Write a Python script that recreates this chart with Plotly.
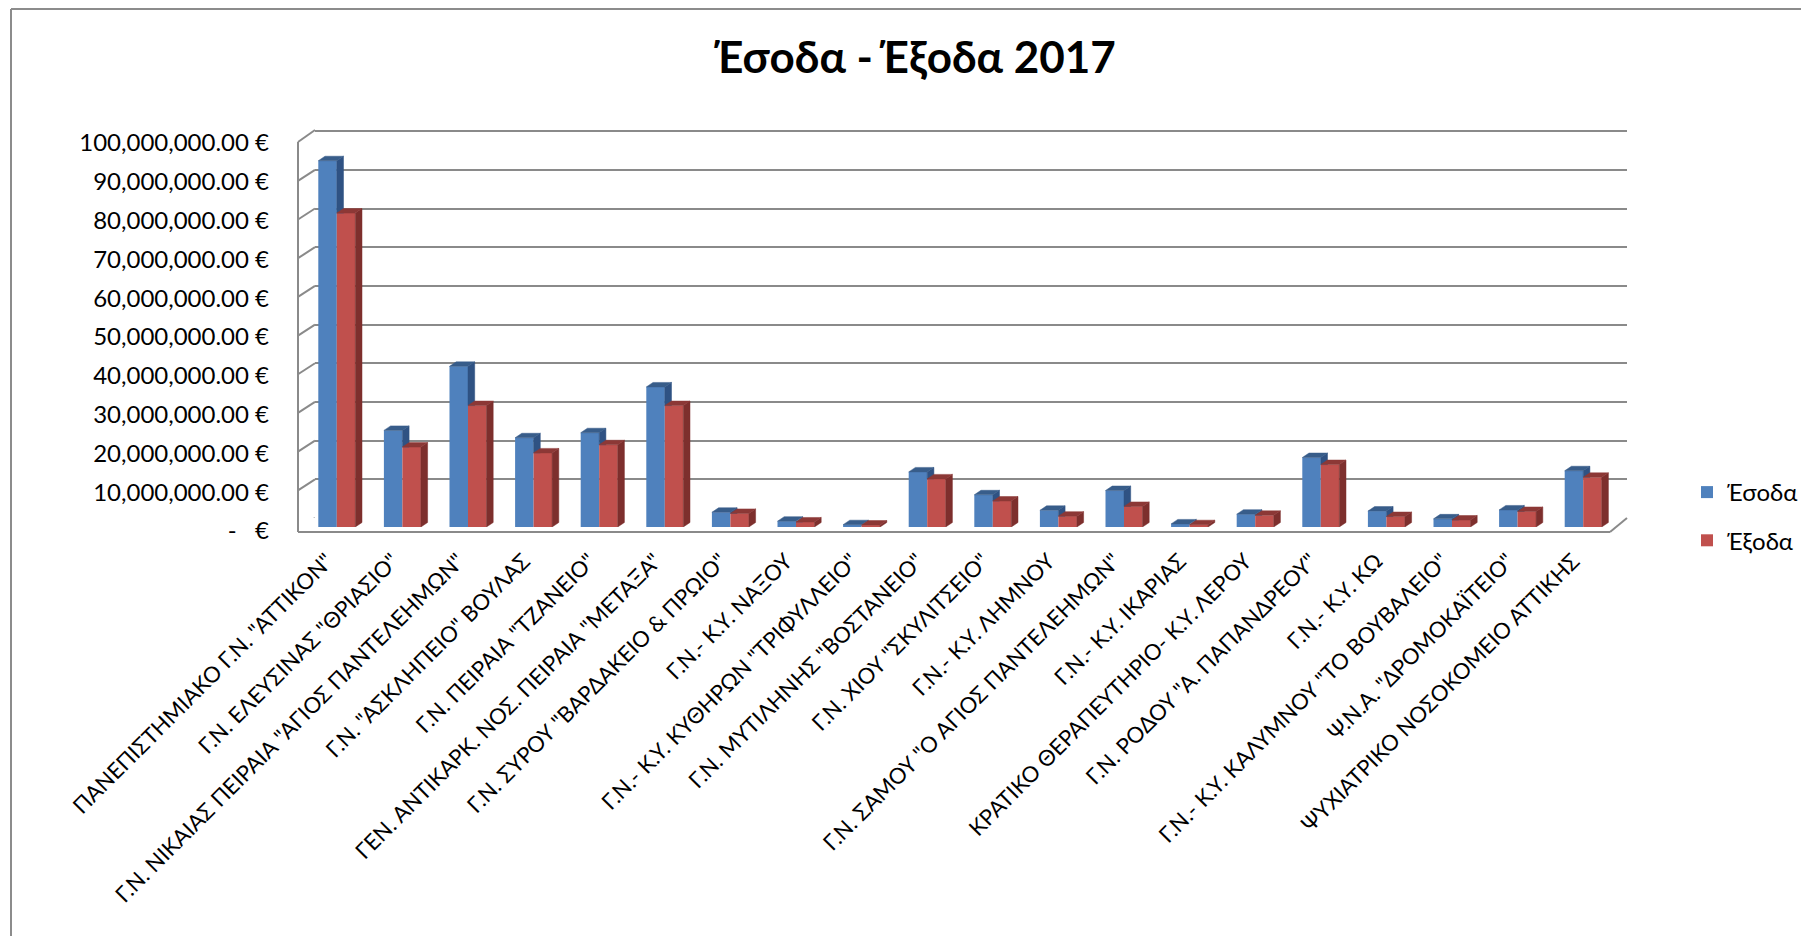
import plotly.graph_objects as go

# ---------------- data ----------------
categories = [
    'ΠΑΝΕΠΙΣΤΗΜΙΑΚΟ Γ.Ν. "ΑΤΤΙΚΟΝ"',
    'Γ.Ν. ΕΛΕΥΣΙΝΑΣ "ΘΡΙΑΣΙΟ"',
    'Γ.Ν. ΝΙΚΑΙΑΣ ΠΕΙΡΑΙΑ "ΑΓΙΟΣ ΠΑΝΤΕΛΕΗΜΩΝ"',
    'Γ.Ν. "ΑΣΚΛΗΠΕΙΟ" ΒΟΥΛΑΣ',
    'Γ.Ν. ΠΕΙΡΑΙΑ "ΤΖΑΝΕΙΟ"',
    'ΓΕΝ. ΑΝΤΙΚΑΡΚ. ΝΟΣ. ΠΕΙΡΑΙΑ "ΜΕΤΑΞΑ"',
    'Γ.Ν. ΣΥΡΟΥ "ΒΑΡΔΑΚΕΙΟ & ΠΡΩΙΟ"',
    'Γ.Ν.- Κ.Υ. ΝΑΞΟΥ',
    'Γ.Ν.- Κ.Υ. ΚΥΘΗΡΩΝ "ΤΡΙΦΥΛΛΕΙΟ"',
    'Γ.Ν. ΜΥΤΙΛΗΝΗΣ "ΒΟΣΤΑΝΕΙΟ"',
    'Γ.Ν. ΧΙΟΥ "ΣΚΥΛΙΤΣΕΙΟ"',
    'Γ.Ν.- Κ.Υ. ΛΗΜΝΟΥ',
    'Γ.Ν. ΣΑΜΟΥ "Ο ΑΓΙΟΣ ΠΑΝΤΕΛΕΗΜΩΝ"',
    'Γ.Ν.- Κ.Υ. ΙΚΑΡΙΑΣ',
    'ΚΡΑΤΙΚΟ ΘΕΡΑΠΕΥΤΗΡΙΟ- Κ.Υ. ΛΕΡΟΥ',
    'Γ.Ν. ΡΟΔΟΥ "Α. ΠΑΠΑΝΔΡΕΟΥ"',
    'Γ.Ν.- Κ.Υ. ΚΩ',
    'Γ.Ν.- Κ.Υ. ΚΑΛΥΜΝΟΥ "ΤΟ ΒΟΥΒΑΛΕΙΟ"',
    'Ψ.Ν.Α. "ΔΡΟΜΟΚΑΪΤΕΙΟ"',
    'ΨΥΧΙΑΤΡΙΚΟ ΝΟΣΟΚΟΜΕΙΟ ΑΤΤΙΚΗΣ',
]
esoda = [94_400_000, 24_900_000, 41_400_000, 23_000_000, 24_300_000,
         36_100_000, 3_800_000, 1_500_000, 600_000, 14_200_000,
         8_300_000, 4_300_000, 9_400_000, 800_000, 3_300_000,
         17_900_000, 4_100_000, 2_100_000, 4_400_000, 14_500_000]
exoda = [80_900_000, 20_600_000, 31_300_000, 19_100_000, 21_200_000,
         31_300_000, 3_500_000, 1_300_000, 500_000, 12_400_000,
         6_700_000, 2_800_000, 5_300_000, 600_000, 3_000_000,
         16_100_000, 2_700_000, 1_800_000, 4_000_000, 12_800_000]
y_tickvals = [0, 10_000_000, 20_000_000, 30_000_000, 40_000_000, 50_000_000,
              60_000_000, 70_000_000, 80_000_000, 90_000_000, 100_000_000]
y_ticktext = ['-\u00a0\u00a0\u00a0€', '10,000,000.00 €', '20,000,000.00 €', '30,000,000.00 €',
              '40,000,000.00 €', '50,000,000.00 €', '60,000,000.00 €', '70,000,000.00 €',
              '80,000,000.00 €', '90,000,000.00 €', '100,000,000.00 €']
series_names = ['Έσοδα', 'Έξοδα']
title_text = 'Έσοδα - Έξοδα 2017'

# ---------------- layout geometry (reference px) ----------------
W, H = 1809, 944
OFF = 8                      # page body margin
FW, FH = W - 2 * OFF, H - 2 * OFF
L, R, T, B = 298, 1627, 130, 532


def fx(px):
    return (px - L) / (R - L)


def fy(py):
    return (B - py) / (B - T)


FONT = "Lato, 'Open Sans', sans-serif"
BLUE, BLUE_SIDE, BLUE_TOP = '#4F81BD', '#2F5283', '#385D8A'
RED, RED_SIDE, RED_TOP = '#C0504D', '#7D2F2D', '#8C3836'
GRID = '#8a8a8a'

YMAX = 100_000_000
YTOP = YMAX * 1.003
front_top_px, front_base_px = 139, 527
back_top_px, back_base_px = 130, 518
BW = 0.282                      # bar width in category units
DX = 6.7 / ((1616 - 304) / 20)  # depth offset in category units
DY = 4.5 / (front_base_px - front_top_px) * YMAX  # depth offset in value units

xs = list(range(len(categories)))

fig = go.Figure()

# empty trace to create the back-wall subplot
fig.add_trace(go.Scatter(x=[], y=[], xaxis='x', yaxis='y', showlegend=False, hoverinfo='skip'))

fig.add_trace(go.Bar(x=xs, y=esoda, name=series_names[0], width=BW, offset=-BW,
                     marker=dict(color=BLUE, line=dict(width=0)), xaxis='x2', yaxis='y2',
                     legendgroup='a'))
fig.add_trace(go.Bar(x=xs, y=exoda, name=series_names[1], width=BW, offset=0,
                     marker=dict(color=RED, line=dict(width=0)), xaxis='x2', yaxis='y2',
                     legendgroup='b'))


def poly_trace(polys, color):
    px, py = [], []
    for xx, yy in polys:
        px += xx + [xx[0], None]
        py += yy + [yy[0], None]
    return go.Scatter(x=px, y=py, fill='toself', fillcolor=color, mode='lines',
                      line=dict(width=0.5, color=color), hoverinfo='skip',
                      showlegend=False, xaxis='x2', yaxis='y2')


blue_side, blue_top, red_side, red_top = [], [], [], []
for x, b, r in zip(xs, esoda, exoda):
    xb0, xb1 = x - BW, x
    xr0, xr1 = x, x + BW
    lo = min(r, b)
    blue_side.append(([xb1, xb1 + DX, xb1 + DX, xb1],
                      [lo, max(lo, DY), b + DY, b]))
    blue_top.append(([xb0, xb1, xb1 + DX, xb0 + DX], [b, b, b + DY, b + DY]))
    red_side.append(([xr1, xr1 + DX, xr1 + DX, xr1], [0, DY, r + DY, r]))
    red_top.append(([xr0, xr1, xr1 + DX, xr0 + DX], [r, r, r + DY, r + DY]))

fig.add_trace(poly_trace(blue_side, BLUE_SIDE))
fig.add_trace(poly_trace(blue_top, BLUE_TOP))
fig.add_trace(poly_trace(red_side, RED_SIDE))
fig.add_trace(poly_trace(red_top, RED_TOP))

shapes = []
line_style = dict(color=GRID, width=2)
# left wall
shapes.append(dict(type='line', xref='paper', yref='paper', x0=0, x1=0, y0=0, y1=fy(142), line=line_style))
shapes.append(dict(type='line', xref='paper', yref='paper', x0=0, y0=fy(142), x1=fx(315), y1=fy(back_top_px),
                   line=line_style))
for v in y_tickvals[:-1]:
    shapes.append(dict(type='line', xref='paper', yref='y', ysizemode='pixel', yanchor=v,
                       x0=fx(315), x1=0, y0=0, y1=-11, line=line_style))
# floor
shapes.append(dict(type='line', xref='paper', yref='paper', x0=0, x1=fx(1610), y0=0, y1=0, line=line_style))
shapes.append(dict(type='line', xref='paper', yref='paper', x0=fx(1610), x1=1, y0=0, y1=fy(back_base_px),
                   line=line_style))
# chart border (top and left edges visible)
border = dict(color='#8c8c8c', width=2)
shapes.append(dict(type='line', xref='paper', yref='paper', x0=fx(11), x1=fx(1900), y0=fy(9), y1=fy(9),
                   line=border))
shapes.append(dict(type='line', xref='paper', yref='paper', x0=fx(11), x1=fx(11), y0=fy(9), y1=fy(1000),
                   line=border))

back_top_dom = back_base_px - (back_base_px - back_top_px) * YTOP / YMAX
front_top_dom = front_base_px - (front_base_px - front_top_px) * YTOP / YMAX

fig.update_layout(
    width=FW, height=FH,
    template='none',
    margin=dict(l=L - OFF, r=(W - OFF) - R, t=T - OFF, b=(H - OFF) - B, pad=0, autoexpand=False),
    paper_bgcolor='white', plot_bgcolor='rgba(0,0,0,0)',
    font=dict(family=FONT, color='black'),
    title=dict(text='<b>' + title_text + '</b>', x=(915 - OFF) / FW, xref='container', xanchor='center',
               y=1 - (58 - OFF) / FH, yref='container', yanchor='middle',
               font=dict(family=FONT, size=44, color='black')),
    showlegend=True,
    legend=dict(x=fx(1687), xanchor='left', y=fy(470), yanchor='top',
                font=dict(family=FONT, size=24, color='black'), tracegroupgap=14,
                bgcolor='rgba(0,0,0,0)', traceorder='grouped'),
    barmode='overlay',
    xaxis=dict(domain=[fx(315), 1], range=[-0.5, 19.5], visible=False, anchor='y', fixedrange=True),
    yaxis=dict(domain=[fy(back_base_px), min(1, fy(back_top_dom))], range=[0, YTOP], anchor='x',
               tickvals=y_tickvals,
               showticklabels=False, showgrid=True, gridcolor=GRID, gridwidth=2,
               zeroline=False, showline=False, ticks='', automargin=False),
    xaxis2=dict(domain=[fx(304), fx(1616)], range=[-0.5, 19.5], anchor='y2',
                tickmode='array', tickvals=xs, ticktext=categories, tickangle=-45,
                tickfont=dict(family=FONT, size=22, color='black'),
                ticklabelshift=-10, ticklabelstandoff=16,
                showgrid=False, zeroline=False, showline=False, ticks='', automargin=False),
    yaxis2=dict(domain=[fy(front_base_px), fy(front_top_dom)], range=[0, YTOP], anchor='x2',
                tickmode='array', tickvals=y_tickvals, ticktext=y_ticktext,
                tickfont=dict(family=FONT, size=24, color='black'),
                ticklabelstandoff=34, ticklabelshift=4,
                showgrid=False, zeroline=False, showline=False, ticks='', automargin=False),
    shapes=shapes,
)

fig.write_html('out.html')
